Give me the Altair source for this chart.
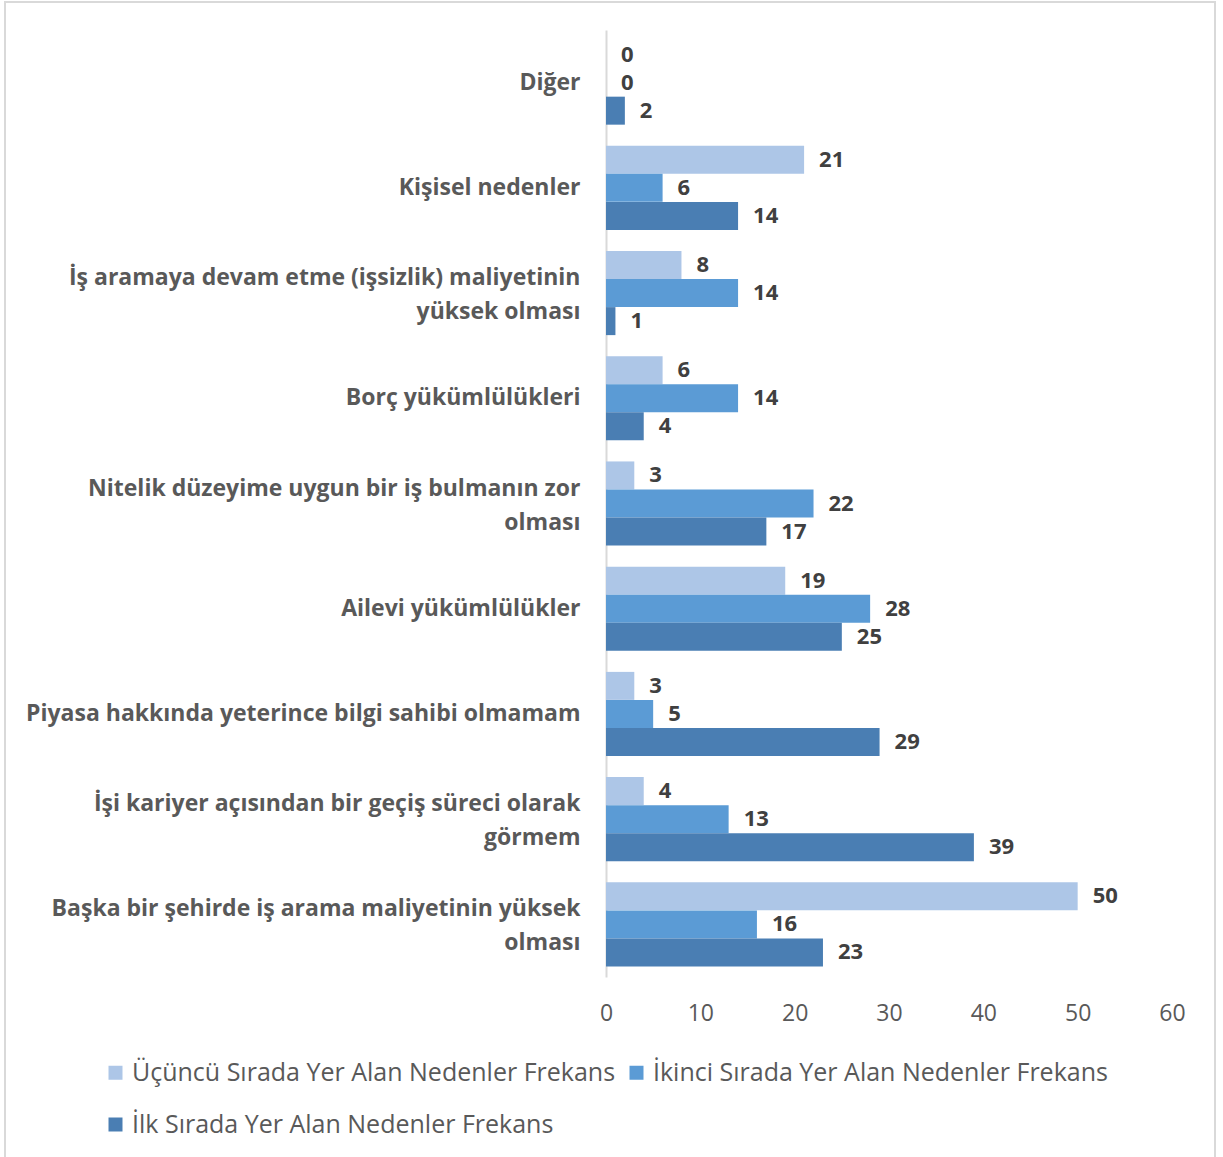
import altair as alt
import pandas as pd

categories = [
    "Diğer",
    "Kişisel nedenler",
    "İş aramaya devam etme (işsizlik) maliyetinin|yüksek olması",
    "Borç yükümlülükleri",
    "Nitelik düzeyime uygun bir iş bulmanın zor|olması",
    "Ailevi yükümlülükler",
    "Piyasa hakkında yeterince bilgi sahibi olmamam",
    "İşi kariyer açısından bir geçiş süreci olarak|görmem",
    "Başka bir şehirde iş arama maliyetinin yüksek|olması",
]
series = [
    "Üçüncü Sırada Yer Alan Nedenler Frekans",
    "İkinci Sırada Yer Alan Nedenler Frekans",
    "İlk Sırada Yer Alan Nedenler Frekans",
]
ucuncu = [0, 21, 8, 6, 3, 19, 3, 4, 50]
ikinci = [0, 6, 14, 14, 22, 28, 5, 13, 16]
ilk = [2, 14, 1, 4, 17, 25, 29, 39, 23]
colors = ["#adc6e7", "#5b9bd5", "#4a7eb3"]
x_ticks = [0, 10, 20, 30, 40, 50, 60]

rows = []
for s, vals in zip(series, [ucuncu, ikinci, ilk]):
    for c, v in zip(categories, vals):
        rows.append({"cat": c, "series": s, "value": v})
df = pd.DataFrame(rows)

FONT = "Open Sans"

y_enc = alt.Y(
    "cat:N",
    sort=categories,
    scale=alt.Scale(paddingInner=0.2, paddingOuter=0.1),
    axis=alt.Axis(
        title=None,
        labelExpr="split(datum.label, '|')",
        labelFont=FONT,
        labelFontSize=23,
        labelFontWeight="bold",
        labelColor="#595959",
        labelPadding=26,
        labelLimit=700,
        labelLineHeight=34,
        labelOffset=alt.condition("indexof(datum.value, '|') >= 0", alt.value(-15), alt.value(0)),
        ticks=False,
        domainColor="#d9d9d9",
        domainWidth=2,
        grid=False,
    ),
)
yoff = alt.YOffset("series:N", sort=series, scale=alt.Scale(paddingInner=0, paddingOuter=0))
x_enc = alt.X(
    "value:Q",
    scale=alt.Scale(domain=[0, 60], nice=False),
    axis=alt.Axis(
        title=None,
        values=x_ticks,
        labelFont=FONT,
        labelFontSize=23,
        labelColor="#595959",
        labelPadding=25,
        labelFlush=False,
        ticks=False,
        domain=False,
        grid=False,
    ),
)

bars = alt.Chart(df).mark_bar(size=28).encode(
    y=y_enc,
    yOffset=yoff,
    x=x_enc,
    color=alt.Color(
        "series:N",
        sort=series,
        scale=alt.Scale(domain=series, range=colors),
        legend=alt.Legend(
            title=None,
            orient="none",
            legendX=-503,
            legendY=1030,
            columns=2,
            direction="horizontal",
            symbolType="square",
            symbolSize=196,
            symbolStrokeWidth=0,
            labelFont=FONT,
            labelFontSize=25,
            labelColor="#595959",
            labelLimit=700,
            columnPadding=8,
            rowPadding=26,
            padding=0,
        ),
    ),
)

labels = alt.Chart(df).mark_text(
    align="left", baseline="middle", dx=15, font=FONT, fontSize=22,
    fontWeight="bold", color="#404040"
).encode(
    y=alt.Y("cat:N", sort=categories),
    yOffset=alt.YOffset("series:N", sort=series),
    x="value:Q",
    text="value:Q",
)

border = alt.Chart(pd.DataFrame({"a": [0]})).mark_rect(
    fill=None, stroke="#d9d9d9", strokeWidth=2
).encode(
    x=alt.value(-601), x2=alt.value(609), y=alt.value(-28), y2=alt.value(1140)
)

chart = alt.layer(border, bars, labels).properties(
    width=566,
    height=947,
    padding={"left": 606, "top": 30, "right": 51, "bottom": 180},
    autosize=alt.AutoSizeParams(type="none"),
    background="white",
).configure_view(stroke=None)

chart.save("out.html", embed_options={"renderer": "svg", "actions": False})
